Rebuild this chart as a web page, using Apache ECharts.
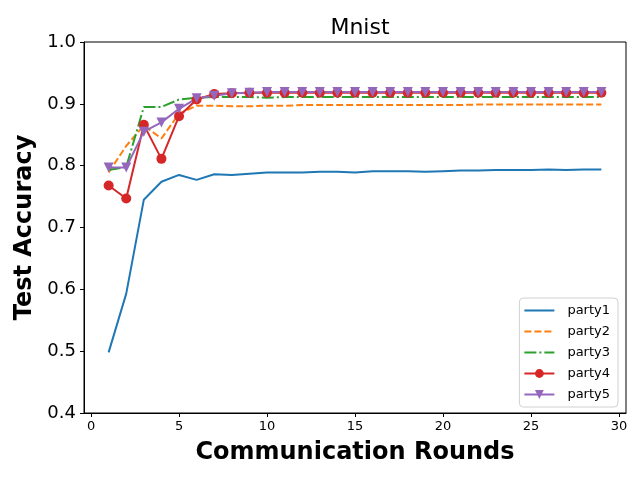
<!DOCTYPE html>
<html>
<head>
<meta charset="utf-8">
<script src="https://cdn.jsdelivr.net/npm/echarts@6/dist/echarts.min.js"></script>
<style>
  html, body { margin: 0; padding: 0; background: #fff; }
  #main { width: 640px; height: 480px; }
</style>
</head>
<body>
<div id="main"></div>
<script>
// communication rounds 1..29
var rounds = [1, 2, 3, 4, 5, 6, 7, 8, 9, 10, 11, 12, 13, 14, 15, 16, 17, 18, 19, 20, 21, 22, 23, 24, 25, 26, 27, 28, 29];
var party1 = [0.498, 0.593, 0.745, 0.774, 0.785, 0.777, 0.786, 0.785, 0.787, 0.789, 0.789, 0.789, 0.790, 0.790, 0.789, 0.791, 0.791, 0.791, 0.790, 0.791, 0.792, 0.792, 0.793, 0.793, 0.793, 0.794, 0.793, 0.794, 0.794];
var party2 = [0.789, 0.832, 0.865, 0.844, 0.884, 0.897, 0.897, 0.896, 0.896, 0.897, 0.897, 0.898, 0.898, 0.898, 0.898, 0.898, 0.898, 0.898, 0.898, 0.898, 0.898, 0.899, 0.899, 0.899, 0.899, 0.899, 0.899, 0.899, 0.899];
var party3 = [0.793, 0.798, 0.895, 0.895, 0.907, 0.910, 0.911, 0.911, 0.911, 0.910, 0.911, 0.911, 0.911, 0.911, 0.911, 0.911, 0.911, 0.911, 0.911, 0.911, 0.911, 0.911, 0.911, 0.911, 0.911, 0.911, 0.911, 0.911, 0.911];
var party4 = [0.768, 0.747, 0.866, 0.811, 0.880, 0.907, 0.916, 0.917, 0.918, 0.918, 0.918, 0.918, 0.918, 0.918, 0.918, 0.918, 0.918, 0.918, 0.918, 0.918, 0.918, 0.918, 0.918, 0.918, 0.918, 0.918, 0.918, 0.918, 0.918];
var party5 = [0.797, 0.797, 0.855, 0.870, 0.892, 0.909, 0.913, 0.917, 0.918, 0.919, 0.919, 0.919, 0.919, 0.919, 0.919, 0.919, 0.919, 0.919, 0.919, 0.919, 0.919, 0.919, 0.919, 0.919, 0.919, 0.919, 0.919, 0.919, 0.919];
var xTicks = [0, 5, 10, 15, 20, 25, 30];

function pairs(ys) {
  var out = [];
  for (var i = 0; i < rounds.length; i++) {
    out.push([rounds[i], ys[i]]);
  }
  return out;
}

var font = 'DejaVu Sans';
var chart = echarts.init(document.getElementById('main'), null, { renderer: 'canvas' });

var option = {
  animation: false,
  backgroundColor: '#fff',
  title: {
    text: 'Mnist',
    left: 355,
    top: 12,
    textAlign: 'center',
    textStyle: { fontFamily: font, fontSize: 22, fontWeight: 'normal', color: '#000' }
  },
  grid: {
    left: 84, right: 14, top: 42, bottom: 67,
    show: true, borderColor: '#000', borderWidth: 1
  },
  legend: {
    orient: 'vertical',
    right: 22,
    bottom: 73,
    itemWidth: 30,
    itemHeight: 11,
    itemGap: 8,
    padding: [6, 8, 6, 4],
    backgroundColor: '#fff',
    borderColor: '#d0d0d0',
    borderWidth: 1,
    borderRadius: 4,
    textStyle: { fontFamily: font, fontSize: 13, color: '#000', padding: [0, 0, 0, 8] },
    // plain lines have no marker in the legend
    data: [
      { name: 'party1', itemStyle: { opacity: 0 } },
      { name: 'party2', itemStyle: { opacity: 0 } },
      { name: 'party3', itemStyle: { opacity: 0 } },
      { name: 'party4' },
      { name: 'party5' }
    ]
  },
  xAxis: {
    type: 'value',
    min: -0.4,
    max: 30.4,
    name: 'Communication Rounds',
    nameLocation: 'middle',
    nameGap: 28,
    nameTextStyle: { fontFamily: font, fontSize: 24, fontWeight: 'bold', color: '#000' },
    axisLine: { show: true, onZero: false, lineStyle: { color: '#000', width: 1 } },
    axisTick: { show: true, length: 4, customValues: xTicks, lineStyle: { color: '#000' } },
    axisLabel: { customValues: xTicks, fontFamily: font, fontSize: 13, color: '#000', margin: 7 },
    splitLine: { show: false }
  },
  yAxis: {
    type: 'value',
    min: 0.4,
    max: 1.0,
    interval: 0.1,
    name: 'Test Accuracy',
    nameLocation: 'middle',
    nameGap: 40,
    nameTextStyle: { fontFamily: font, fontSize: 24, fontWeight: 'bold', color: '#000' },
    axisLine: { show: true, onZero: false, lineStyle: { color: '#000', width: 1 } },
    axisTick: { show: true, length: 4, lineStyle: { color: '#000' } },
    axisLabel: {
      fontFamily: font, fontSize: 18, color: '#000', margin: 8,
      formatter: function (v) { return v.toFixed(1); }
    },
    splitLine: { show: false }
  },
  series: [
    {
      name: 'party1', type: 'line', data: pairs(party1),
      symbol: 'none', color: '#1f77b4',
      lineStyle: { width: 2, color: '#1f77b4' }
    },
    {
      name: 'party2', type: 'line', data: pairs(party2),
      symbol: 'none', color: '#ff7f0e',
      lineStyle: { width: 2, color: '#ff7f0e', type: [7, 3] }
    },
    {
      name: 'party3', type: 'line', data: pairs(party3),
      symbol: 'none', color: '#2ca02c',
      lineStyle: { width: 2, color: '#2ca02c', type: [12, 3, 2, 3] }
    },
    {
      name: 'party4', type: 'line', data: pairs(party4),
      symbol: 'circle', symbolSize: 10, showAllSymbol: true, color: '#d62728',
      itemStyle: { color: '#d62728' },
      lineStyle: { width: 2, color: '#d62728' }
    },
    {
      name: 'party5', type: 'line', data: pairs(party5),
      symbol: 'triangle', symbolSize: 10, symbolRotate: 180, showAllSymbol: true, color: '#9467bd',
      itemStyle: { color: '#9467bd' },
      lineStyle: { width: 2, color: '#9467bd' }
    }
  ]
};

chart.setOption(option);
</script>
</body>
</html>
